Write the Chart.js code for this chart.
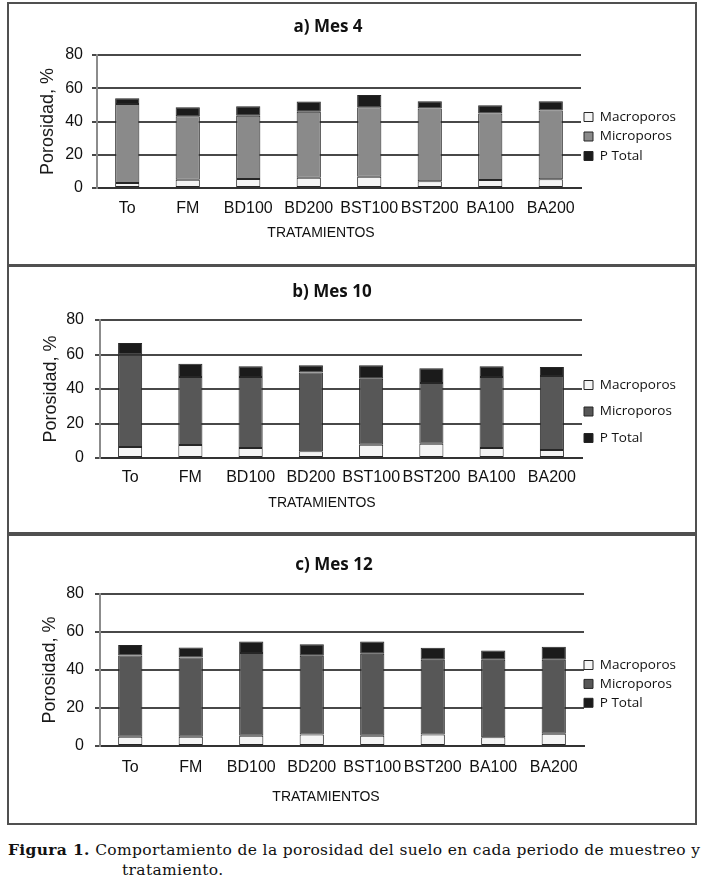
<!DOCTYPE html>
<html lang="es">
<head>
<meta charset="utf-8">
<title>Porosidad del suelo</title>
<script src="https://cdn.jsdelivr.net/npm/chart.js@4.4.1/dist/chart.umd.min.js"></script>
<style>
  body { margin: 0; background: #fff; width: 706px; height: 882px; position: relative; overflow: hidden; }
  .panel { position: absolute; left: 7px; width: 690px; border: 2px solid #505050; box-sizing: border-box; background: #fff; }
  .panel canvas { display: block; }
  #pa { top: 2px; height: 264px; }
  #pb { top: 265px; height: 269px; }
  #pc { top: 534px; height: 291px; }
  .caption { position: absolute; left: 8px; top: 840px; font: 15.5px "DejaVu Serif", serif; letter-spacing: 0.34px; line-height: 20px; color: #111; white-space: nowrap; }
  .caption .l2 { padding-left: 114px; }
</style>
</head>
<body>
<div class="panel" id="pa"><canvas id="mes4" width="686" height="260"></canvas></div>
<div class="panel" id="pb"><canvas id="mes10" width="686" height="265"></canvas></div>
<div class="panel" id="pc"><canvas id="mes12" width="686" height="287"></canvas></div>
<div class="caption"><b>Figura 1.</b> Comportamiento de la porosidad del suelo en cada periodo de muestreo y<br><span class="l2">tratamiento.</span></div>

<script>
const tratamientos = ["To", "FM", "BD100", "BD200", "BST100", "BST200", "BA100", "BA200"];
const ticksY = [0, 20, 40, 60, 80];

// segmentos apilados (%)
const macroMes4 = [3.0, 5.0, 5.4, 6.2, 6.8, 4.0, 4.8, 5.2];
const microMes4 = [47.6, 38.1, 38.1, 39.6, 41.8, 43.8, 40.0, 41.4];
const totalMes4 = [3.4, 5.5, 5.7, 6.2, 7.4, 4.4, 5.0, 5.6];

const macroMes10 = [6.4, 7.5, 5.8, 3.9, 7.7, 8.3, 5.8, 4.6];
const microMes10 = [53.5, 39.5, 41.2, 45.6, 38.3, 35.2, 41.2, 42.9];
const totalMes10 = [6.8, 7.7, 6.2, 4.2, 7.7, 8.5, 6.2, 5.3];

const macroMes12 = [4.9, 4.9, 5.4, 6.0, 5.4, 6.0, 4.6, 6.5];
const microMes12 = [42.7, 41.7, 43.5, 41.5, 43.1, 39.4, 40.8, 38.9];
const totalMes12 = [5.5, 5.3, 6.1, 6.1, 6.5, 6.3, 4.9, 6.8];

const fuenteEje = "'Liberation Sans', Arial, sans-serif";
const tamLeyenda = 13.5;
const altoEjeX = 40;

function crearGrafico(id, titulo, macro, micro, total, cfg) {
    const canvas = document.getElementById(id);
    const W = canvas.width, H = canvas.height;
    const borde = { borderColor: '#262626', borderWidth: 1, borderSkipped: false };

    new Chart(canvas, {
        type: 'bar',
        data: {
            labels: tratamientos,
            datasets: [
                { label: 'Macroporos', data: macro, backgroundColor: '#f4f4f4', ...borde },
                { label: 'Microporos', data: micro, backgroundColor: cfg.gris, ...borde },
                { label: 'P Total', data: total, backgroundColor: '#1b1b1b', ...borde }
            ]
        },
        options: {
            responsive: false,
            animation: false,
            layout: {
                padding: { left: 0, top: cfg.area.top, right: W - cfg.area.right - 1, bottom: H - cfg.area.bottom - altoEjeX }
            },
            datasets: { bar: { categoryPercentage: 1, barPercentage: 0.4 } },
            scales: {
                x: {
                    stacked: true,
                    grid: { display: false, drawTicks: false },
                    border: { color: '#333', width: 2 },
                    ticks: {
                        padding: cfg.padX, color: '#111', autoSkip: false, maxRotation: 0, minRotation: 0,
                        font: { family: fuenteEje, size: 16 }
                    },
                    afterFit: s => { s.height = altoEjeX; }
                },
                y: {
                    stacked: true,
                    min: ticksY[0],
                    max: ticksY[ticksY.length - 1],
                    ticks: { stepSize: ticksY[1] - ticksY[0], padding: cfg.padY, color: '#111', font: { family: fuenteEje, size: 16 } },
                    grid: { color: '#484848', lineWidth: 2, tickLength: 5 },
                    border: { color: '#8c8c8c', width: 2 },
                    title: {
                        display: true, text: 'Porosidad, %', color: '#1a1a1a',
                        font: { family: fuenteEje, size: 18 },
                        padding: { top: cfg.padTitY, bottom: 0 }
                    },
                    afterFit: s => { s.width = cfg.area.left; }
                }
            },
            plugins: {
                legend: {
                    position: 'right',
                    align: 'start',
                    maxWidth: 1,
                    labels: {
                        boxWidth: 9, boxHeight: 9, padding: cfg.legPad, color: '#111',
                        font: { family: "'Open Sans', sans-serif", size: tamLeyenda }
                    }
                },
                tooltip: { enabled: false }
            }
        },
        plugins: [{
            id: 'textos',
            afterLayout(chart) {
                // leyenda a la derecha, fuera del area del grafico
                const lg = chart.legend;
                lg.left = cfg.legX - cfg.legPad;
                lg.right = lg.left + 110;
                lg.top = cfg.legY - cfg.legPad - tamLeyenda / 2;
                lg.bottom = lg.top + 200;
            },
            afterDraw(chart) {
                const ctx = chart.ctx;
                ctx.save();
                ctx.fillStyle = '#111';
                ctx.textAlign = 'center';
                ctx.textBaseline = 'middle';
                ctx.font = "bold 17px 'Open Sans', sans-serif";
                ctx.fillText(titulo, cfg.titulo.x, cfg.titulo.y);
                ctx.font = "14px " + fuenteEje;
                ctx.fillText('TRATAMIENTOS', cfg.tituloX.x, cfg.tituloX.y);
                ctx.restore();
            }
        }]
    });
}

crearGrafico('mes4', 'a) Mes 4', macroMes4, microMes4, totalMes4, {
    area: { left: 88, right: 572, top: 51, bottom: 184 },
    padX: 11, padY: 9, padTitY: 28,
    titulo: { x: 319, y: 23 }, tituloX: { x: 312, y: 229 },
    legX: 575, legY: 113, legPad: 6, gris: '#8a8a8a'
});

crearGrafico('mes10', 'b) Mes 10', macroMes10, microMes10, totalMes10, {
    area: { left: 91, right: 573, top: 53, bottom: 191 },
    padX: 10, padY: 11, padTitY: 31,
    titulo: { x: 323, y: 25 }, tituloX: { x: 313, y: 236 },
    legX: 575, legY: 118, legPad: 13, gris: '#575757'
});

crearGrafico('mes12', 'c) Mes 12', macroMes12, microMes12, totalMes12, {
    area: { left: 91, right: 575, top: 58, bottom: 210 },
    padX: 12, padY: 11, padTitY: 30,
    titulo: { x: 325, y: 29 }, tituloX: { x: 317, y: 261 },
    legX: 575, legY: 129, legPad: 5.4, gris: '#575757'
});
</script>
</body>
</html>
